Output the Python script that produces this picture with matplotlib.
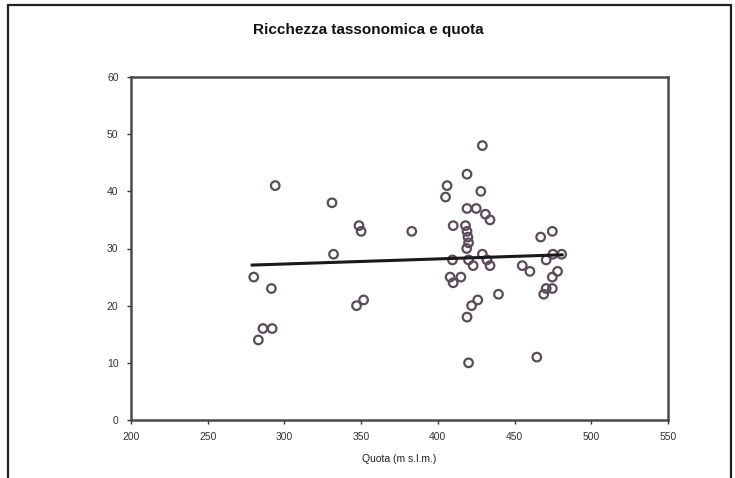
import matplotlib
matplotlib.use("Agg")
import matplotlib.pyplot as plt
from matplotlib.patches import Rectangle

plt.rcParams['font.family'] = ['Liberation Sans', 'DejaVu Sans']

# Data
quota = [280, 291.5, 294, 286, 292, 283, 331, 332, 348.6, 350, 347, 351.6,
         383, 406, 405, 410, 419, 429, 428, 419, 425, 431, 434, 418, 419,
         419.6, 420, 418.8, 429, 434, 423, 420, 409.5, 408, 415, 410, 426,
         422, 419, 420, 439.5, 455, 460, 467, 474.6, 470.6, 475, 480.7, 478,
         474.6, 470.6, 469, 474.6, 464.5, 432]
ricchezza = [25, 23, 41, 16, 16, 14, 38, 29, 34, 33, 20, 21,
             33, 41, 39, 34, 43, 48, 40, 37, 37, 36, 35, 34, 33,
             32, 31, 30, 29, 27, 27, 28, 28, 25, 25, 24, 21,
             20, 18, 10, 22, 27, 26, 32, 33, 28, 29, 29, 26,
             25, 23, 22, 23, 11, 28]
fit_x = [279, 481]
fit_y = [27.1, 28.9]

xticks = [200, 250, 300, 350, 400, 450, 500, 550]
yticks = [0, 10, 20, 30, 40, 50, 60]

fig = plt.figure(figsize=(7.35, 4.78), dpi=100)
ax = fig.add_axes([131/735, 58/478, 537/735, 343/478])

ax.scatter(quota, ricchezza, s=38, facecolors='none', edgecolors='#5a4c58',
           linewidths=1.6, zorder=3)
ax.plot(fit_x, fit_y, color='#1a1a1a', linewidth=2.2, zorder=4)

ax.set_xlim(200, 550)
ax.set_ylim(0, 60)
ax.set_xticks(xticks)
ax.set_yticks(yticks)
ax.tick_params(labelsize=7.5, length=3, width=1, colors='#333333', pad=6)
for s in ax.spines.values():
    s.set_linewidth(1.8)
    s.set_color('#4a4a4a')

ax.set_xlabel('Quota (m s.l.m.)', fontsize=7.5, labelpad=8, color='#222222')
fig.text(368/735, 1 - 30/478, 'Ricchezza tassonomica e quota', ha='center',
         va='center', fontsize=11, fontweight='bold', color='#111111')

fig.patches.append(Rectangle((8/735, -0.01), (731-8)/735, 1 - 5/478 + 0.01,
                             transform=fig.transFigure, fill=False,
                             edgecolor='#222222', linewidth=1.6))

fig.savefig('out.png', dpi=100)
